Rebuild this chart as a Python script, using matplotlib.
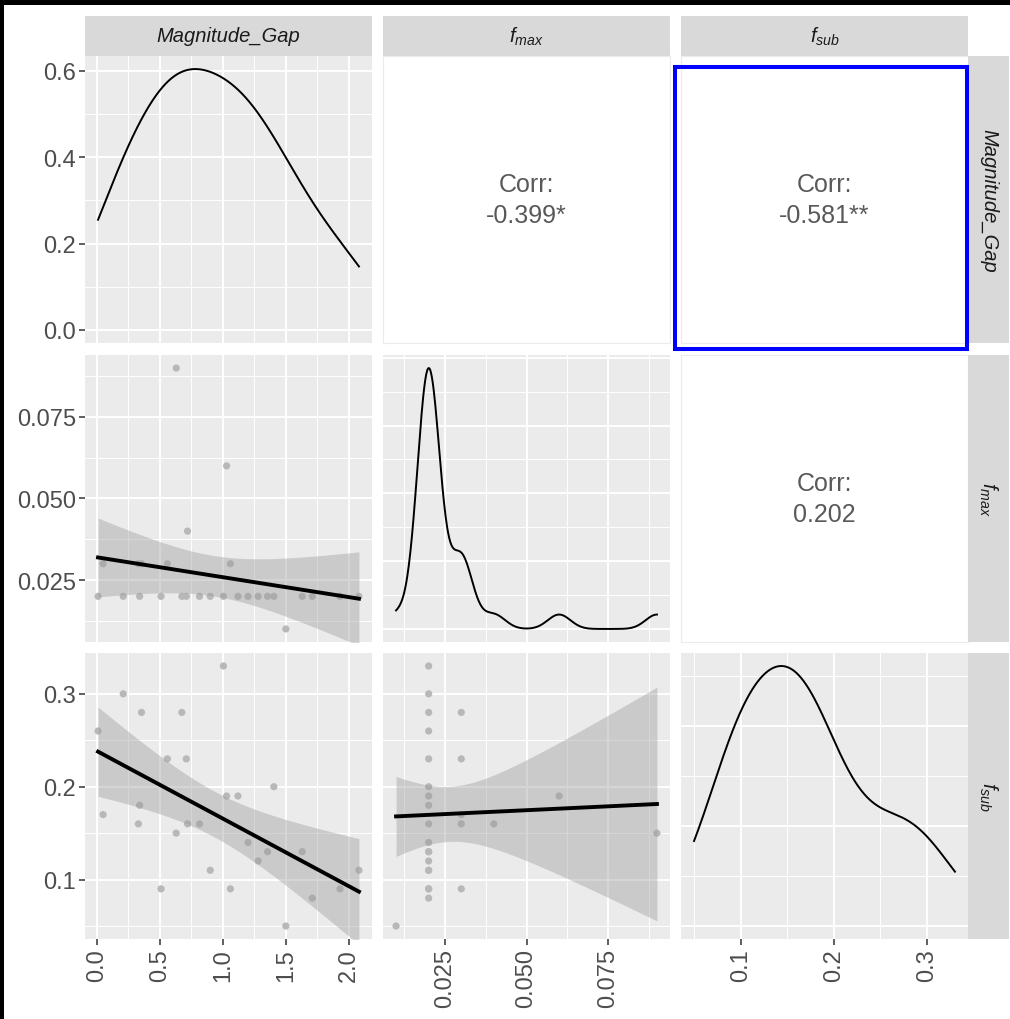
import numpy as np
import matplotlib
matplotlib.use('Agg')
import matplotlib.pyplot as plt
from matplotlib.patches import Rectangle
from matplotlib.ticker import MaxNLocator

plt.rcParams['font.family'] = ['Liberation Sans', 'DejaVu Sans']
plt.rcParams['mathtext.fontset'] = 'custom'
plt.rcParams['mathtext.it'] = 'Liberation Sans:italic'
plt.rcParams['mathtext.rm'] = 'Liberation Sans'

# data
magnitude_gap = [0.01, 0.05, 0.21, 0.33, 0.34, 0.355, 0.51, 0.56, 0.63, 0.675, 0.71, 0.72, 0.815, 0.90,
                 1.005, 1.03, 1.06, 1.12, 1.20, 1.28, 1.355, 1.405, 1.50, 1.63, 1.71, 1.93, 2.08]
f_max = [0.02, 0.03, 0.02, 0.03, 0.02, 0.03, 0.02, 0.03, 0.09, 0.02, 0.02, 0.04, 0.02, 0.02,
         0.02, 0.06, 0.03, 0.02, 0.02, 0.02, 0.02, 0.02, 0.01, 0.02, 0.02, 0.02, 0.02]
f_sub = [0.26, 0.17, 0.30, 0.16, 0.18, 0.28, 0.09, 0.23, 0.15, 0.28, 0.23, 0.16, 0.16, 0.11,
         0.33, 0.19, 0.09, 0.19, 0.14, 0.12, 0.13, 0.20, 0.05, 0.13, 0.08, 0.09, 0.11]

var_names = ['Magnitude_Gap', r'$f_{max}$', r'$f_{sub}$']
corr_labels = {(0, 1): 'Corr:\n-0.399*', (0, 2): 'Corr:\n-0.581**', (1, 2): 'Corr:\n0.202'}
ticks = [[0.0, 0.5, 1.0, 1.5, 2.0], [0.025, 0.050, 0.075], [0.1, 0.2, 0.3]]
tick_labels = [['0.0', '0.5', '1.0', '1.5', '2.0'], ['0.025', '0.050', '0.075'], ['0.1', '0.2', '0.3']]
dens_ticks = [0.0, 0.2, 0.4, 0.6]
dens_tick_labels = ['0.0', '0.2', '0.4', '0.6']

data = [np.array(magnitude_gap), np.array(f_max), np.array(f_sub)]

W, H = 1010, 1020
fig = plt.figure(figsize=(W / 100, H / 100), dpi=100)
fig.patch.set_facecolor('white')

cols = [(85, 372), (383, 670), (681, 968)]
rows = [(57, 344), (356, 643), (654, 940)]


def rect(x0, x1, y0, y1):
    return [x0 / W, 1 - y1 / H, (x1 - x0) / W, (y1 - y0) / H]


def lims(v):
    r = v.max() - v.min()
    return v.min() - 0.05 * r, v.max() + 0.05 * r


def minors(major, lo, hi):
    step = major[1] - major[0]
    m = [major[0] - step / 2] + [t + step / 2 for t in major]
    return [t for t in m if lo <= t <= hi]


def kde(v):
    n = len(v)
    q75, q25 = np.percentile(v, [75, 25])
    bw = 0.9 * min(v.std(ddof=1), (q75 - q25) / 1.34) * n ** (-0.2)
    xs = np.linspace(v.min(), v.max(), 512)
    ys = np.exp(-0.5 * ((xs[:, None] - v[None, :]) / bw) ** 2).sum(1) / (n * bw * np.sqrt(2 * np.pi))
    return xs, ys


def lm_band(x, y):
    n = len(x)
    b, a = np.polyfit(x, y, 1)
    xs = np.linspace(x.min(), x.max(), 80)
    fit = a + b * xs
    s = np.sqrt(((y - (a + b * x)) ** 2).sum() / (n - 2))
    sxx = ((x - x.mean()) ** 2).sum()
    se = s * np.sqrt(1 / n + (xs - x.mean()) ** 2 / sxx)
    t = 2.0595  # qt(0.975, 25)
    return xs, fit, fit - t * se, fit + t * se


def style_grid(ax, xmaj, xlo, xhi, ymaj, ylo, yhi):
    ax.set_facecolor('#EBEBEB')
    for s in ax.spines.values():
        s.set_visible(False)
    ax.set_xticks(xmaj)
    ax.set_xticks(minors(xmaj, xlo, xhi), minor=True)
    ax.set_yticks(ymaj)
    ax.set_yticks(minors(ymaj, ylo, yhi), minor=True)
    ax.grid(which='major', color='white', lw=1.4)
    ax.grid(which='minor', color='white', lw=0.7)
    ax.set_axisbelow(True)
    ax.set_xlim(xlo, xhi)
    ax.set_ylim(ylo, yhi)
    ax.tick_params(which='both', length=0, labelleft=False, labelbottom=False)


for i in range(3):
    for j in range(3):
        ax = fig.add_axes(rect(cols[j][0], cols[j][1], rows[i][0], rows[i][1]))
        xlo, xhi = lims(data[j])
        if i < j:
            ax.set_facecolor('white')
            for s in ax.spines.values():
                s.set_color('#EBEBEB')
                s.set_linewidth(0.8)
            ax.set_xticks([])
            ax.set_yticks([])
            ax.text(0.5, 0.5, corr_labels[(i, j)], ha='center', va='center', fontsize=18,
                    color='#595959', linespacing=1.4, transform=ax.transAxes)
            continue
        if i == j:
            xs, ys = kde(data[j])
            ylo, yhi = -0.05 * ys.max(), ys.max() * 1.05
            if i == 0:
                ymaj = dens_ticks
            else:
                ymaj = list(MaxNLocator(nbins=4, steps=[1, 2, 2.5, 5, 10]).tick_values(0, ys.max()))
            style_grid(ax, ticks[j], xlo, xhi, ymaj, ylo, yhi)
            ax.plot(xs, ys, color='black', lw=1.4)
        else:
            ylo, yhi = lims(data[i])
            style_grid(ax, ticks[j], xlo, xhi, ticks[i], ylo, yhi)
            ax.scatter(data[j], data[i], s=27, color='#B8B8B8', edgecolors='none', zorder=2)
            xs, fit, lo, hi = lm_band(data[j], data[i])
            ax.fill_between(xs, lo, hi, color='#999999', alpha=0.4, lw=0, zorder=3)
            ax.plot(xs, fit, color='black', lw=2.8, zorder=4)
        if j == 0:
            ax.tick_params(axis='y', which='major', length=4.5, width=1.1, color='#333333',
                           labelleft=True, labelsize=17, labelcolor='#4D4D4D', pad=2)
            if i == 0:
                ax.set_yticklabels(dens_tick_labels)
            else:
                ax.set_yticklabels(tick_labels[i])
        if i == 2:
            ax.tick_params(axis='x', which='major', length=4.5, width=1.1, color='#333333',
                           labelbottom=True, labelsize=17, labelcolor='#4D4D4D', pad=2)
            ax.set_xticklabels(tick_labels[j], rotation=90)

# column strips
for j in range(3):
    sax = fig.add_axes(rect(cols[j][0], cols[j][1], 17, 57))
    sax.set_facecolor('#D9D9D9')
    sax.set_xticks([]); sax.set_yticks([])
    for s in sax.spines.values():
        s.set_visible(False)
    sax.text(0.5, 0.5, var_names[j], ha='center', va='center', fontsize=14.5, style='italic',
             color='#1A1A1A', transform=sax.transAxes)

# row strips
for i in range(3):
    sax = fig.add_axes(rect(968, 1009, rows[i][0], rows[i][1]))
    sax.set_facecolor('#D9D9D9')
    sax.set_xticks([]); sax.set_yticks([])
    for s in sax.spines.values():
        s.set_visible(False)
    sax.text(0.5, 0.5, var_names[i], ha='center', va='center', fontsize=14.5, style='italic',
             rotation=-90, color='#1A1A1A', transform=sax.transAxes)

# highlight box and screenshot edges
fig.patches.append(Rectangle((675 / W, 1 - 350 / H), 292 / W, 282 / H, transform=fig.transFigure,
                             fill=False, edgecolor='#0000FF', lw=2.9, zorder=10))
fig.patches.append(Rectangle((0, 1 - 6 / H), 1, 6 / H, transform=fig.transFigure,
                             facecolor='black', edgecolor='none', zorder=11))
fig.patches.append(Rectangle((0, 0), 4 / W, 1, transform=fig.transFigure,
                             facecolor='black', edgecolor='none', zorder=11))

plt.savefig('out.png', dpi=100)
